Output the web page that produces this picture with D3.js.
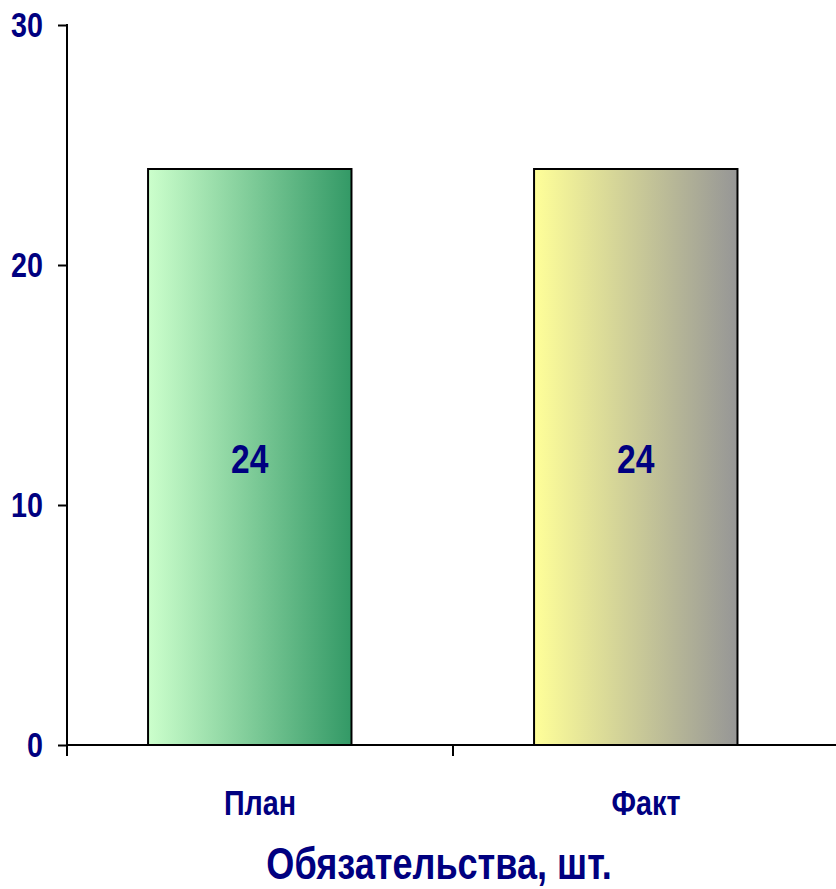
<!DOCTYPE html>
<html>
<head>
<meta charset="utf-8">
<script src="https://cdn.jsdelivr.net/npm/d3@7"></script>
<style>
  body { margin: 0; background: #fff; }
  svg text { font-family: "Liberation Sans", Arial, sans-serif; font-weight: bold; fill: #000080; }
</style>
</head>
<body>
<svg width="836" height="889"></svg>
<script>
var categories = ['План', 'Факт'];
var values = [24, 24];
var yTicks = [0, 10, 20, 30];
var axisTitle = 'Обязательства, шт.';
var gradients = [['#ccffcc', '#339966'], ['#ffff99', '#969696']];

var narrow = 0.82; // squeeze to look like Arial Narrow
var svg = d3.select('svg');

var x = d3.scaleBand()
    .domain(categories)
    .range([67, 839])
    .paddingInner(0);

var y = d3.scaleLinear()
    .domain([0, 30])
    .range([745, 25]);

function label(parent, tx, ty, size, anchor, txt) {
    return parent.append('text')
        .attr('transform', 'translate(' + tx + ',' + ty + ') scale(' + narrow + ',1)')
        .attr('text-anchor', anchor)
        .attr('font-size', size)
        .text(txt);
}

// gradients for the bars
var defs = svg.append('defs');
gradients.forEach((g, i) => {
    let lg = defs.append('linearGradient')
        .attr('id', 'grad' + i)
        .attr('x1', '0%').attr('x2', '100%')
        .attr('y1', '0%').attr('y2', '0%');
    lg.append('stop').attr('offset', '0%').attr('stop-color', g[0]);
    lg.append('stop').attr('offset', '100%').attr('stop-color', g[1]);
});

var bw = x.bandwidth();
var barX = (i) => x(categories[i]) + bw * 0.21;
var barW = bw * 0.527;

svg.selectAll('rect.bar')
    .data(values)
    .enter().append('rect')
    .attr('class', 'bar')
    .attr('x', (d, i) => barX(i))
    .attr('width', barW)
    .attr('y', d => y(d))
    .attr('height', d => y(0) - y(d))
    .attr('fill', (d, i) => 'url(#grad' + i + ')')
    .attr('stroke', '#000')
    .attr('stroke-width', 2);

values.forEach((d, i) => {
    label(svg, barX(i) + barW / 2, (y(d) + y(0)) / 2 + 16, 41, 'middle', d);
});

// y axis
var yAxis = svg.append('g')
    .attr('transform', 'translate(67,0)')
    .call(d3.axisLeft(y).tickValues(yTicks).tickSize(9).tickFormat(''));
yAxis.select('.domain').remove();
yAxis.selectAll('line').attr('stroke', '#000').attr('stroke-width', 2);
yTicks.forEach(t => {
    label(yAxis, -24, y(t) + 12, 35, 'end', t);
});
yAxis.append('line')
    .attr('x1', 0).attr('x2', 0)
    .attr('y1', y(30) - 1).attr('y2', y(0) + 11)
    .attr('stroke', '#000').attr('stroke-width', 2);

// x axis
var xAxis = svg.append('g')
    .attr('transform', 'translate(0,745)')
    .call(d3.axisBottom(x).tickSize(0).tickFormat(''));
xAxis.select('.domain').remove();
categories.forEach(c => {
    label(xAxis, x(c) + bw / 2, 70, 35, 'middle', c);
});
xAxis.append('line')
    .attr('x1', 67).attr('x2', 836)
    .attr('y1', 0).attr('y2', 0)
    .attr('stroke', '#000').attr('stroke-width', 2);
categories.forEach(c => {
    xAxis.append('line')
        .attr('x1', x(c) + bw).attr('x2', x(c) + bw)
        .attr('y1', 0).attr('y2', 11)
        .attr('stroke', '#000').attr('stroke-width', 2);
});

label(svg, 439, 879, 44, 'middle', axisTitle);
</script>
</body>
</html>
